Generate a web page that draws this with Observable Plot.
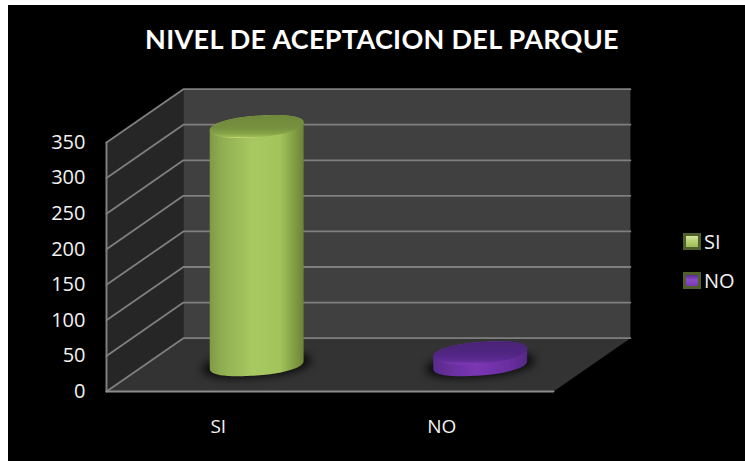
<!DOCTYPE html>
<html lang="es">
<head>
<meta charset="utf-8">
<script src="https://cdn.jsdelivr.net/npm/d3@7"></script>
<script src="https://cdn.jsdelivr.net/npm/@observablehq/plot@0.6"></script>
<style>
  html, body { margin: 0; padding: 0; background: #fff; overflow: hidden; }
  #panel { position: absolute; left: 8px; top: 5px; width: 737px; height: 456px; background: #000; color: #fff; font-family: Lato, "Open Sans", sans-serif; }
  #panel h1 { margin: 0; position: absolute; left: 0; width: 748px; top: 16px; text-align: center; font-size: 27px; line-height: 36px; font-weight: 700; color: #fff; letter-spacing: 0.3px; white-space: nowrap; }
  #plot { position: absolute; left: 0; top: 54px; }
  #plot svg { display: block; }
  .shadow { filter: blur(4px); }
  #legend { position: absolute; left: 675px; top: 217px; font: 20px "Open Sans", sans-serif; color: #f2f2f2; }
  #legend div { display: flex; align-items: center; height: 39px; }
  #legend i { display: block; box-sizing: border-box; width: 18px; height: 17px; border: 3px solid #4f5f2a; margin-right: 3px; }
</style>
</head>
<body>
<div id="panel">
  <h1 id="title"></h1>
  <div id="plot"></div>
  <div id="legend"></div>
</div>
<script>
const chartTitle = "NIVEL DE ACEPTACION DEL PARQUE";
const categories = ["SI", "NO"];
const values = [335, 17];
const tickValues = [0, 50, 100, 150, 200, 250, 300, 350];
const bodyGradients = ["gBodySi", "gBodyNo"];
const topGradients = ["gTopSi", "gTopNo"];
const swatches = [
  "linear-gradient(180deg,#d3e59a 0%,#b7d174 45%,#9dbc58 100%)",
  "linear-gradient(180deg,#5c2c94 0%,#8a4cc4 45%,#7a3ab0 100%)"
];

// Oblique projection of the 3D box: depth 0 is the front edge, depth 1 the back wall.
const depthX = 0.344;
const depthV = 75;
const project = (pos, v, d) => ({x: pos + d * depthX, y: v + d * depthV});
const maxV = d3.max(tickValues);

// A tilted, rounded ellipse on a cylinder; the angles select the arc returned.
const cylRx = 0.21, cylRy = 15, cylShear = 5.5, roundness = 0.9;
const soft = c => Math.sign(c) * Math.abs(c) ** roundness;
function arc(cx, cv, from, to, k = 1) {
  return d3.range(0, 61).map(i => {
    const t = from + (to - from) * i / 60;
    return {
      x: cx + k * cylRx * soft(Math.cos(t)),
      y: cv + k * (cylShear * Math.cos(t) + cylRy * soft(Math.sin(t)))
    };
  });
}

// Gridlines run along the side wall and then across the back wall.
const gridPaths = tickValues.map(v => [project(0, v, 0), project(0, v, 1), project(2, v, 1)]);

const sideWall = [project(0, 0, 0), project(0, 0, 1), project(0, maxV, 1), project(0, maxV, 0)];
const backWall = [project(0, 0, 1), project(2, 0, 1), project(2, maxV, 1), project(0, maxV, 1)];
const floor = [project(0, 0, 0), project(2, 0, 0), project(2, 0, 1), project(0, 0, 1)];

const gradient = (id, x2, y2, stops) => {
  const g = d3.create("svg:linearGradient").attr("id", id)
    .attr("x1", 0).attr("y1", 0).attr("x2", x2).attr("y2", y2);
  stops.forEach(([o, c]) => g.append("stop").attr("offset", o).attr("stop-color", c));
  return g.node();
};

const defs = () => {
  const d = d3.create("svg:defs");
  d.append(() => gradient("gBodySi", 1, 0, [[0, "#7f9a45"], [0.12, "#8fad50"], [0.45, "#a8c862"], [0.75, "#a3c35d"], [0.92, "#7e993f"], [1, "#6c8336"]]));
  d.append(() => gradient("gBodyNo", 1, 0, [[0, "#5a2b8c"], [0.45, "#7b36b4"], [0.8, "#6a2ea0"], [1, "#552887"]]));
  d.append(() => gradient("gTopSi", 0, 1, [[0, "#6f883b"], [0.55, "#76903f"], [0.8, "#86a247"], [0.95, "#9dbb55"], [1, "#cfe67a"]]));
  d.append(() => gradient("gTopNo", 0, 1, [[0, "#4a2376"], [0.6, "#512684"], [0.85, "#5f2b95"], [0.96, "#7434a8"], [1, "#8f4ac8"]]));
  return d.node();
};

const shape = (points, fill, extra = {}) =>
  Plot.line(points, {x: "x", y: "y", fill, stroke: "none", ...extra});

const cylinderMarks = categories.flatMap((_, i) => {
  const base = project(i + 0.5, 0, 0.5);
  const topV = base.y + values[i];
  const body = [...arc(base.x, base.y, Math.PI, 2 * Math.PI), ...arc(base.x, topV, 0, Math.PI)];
  const top = arc(base.x, topV, 0, 2 * Math.PI);
  const foot = arc(base.x, base.y, 0, 2 * Math.PI, 1.16);
  return [
    shape(foot, "#0c0c0c", {className: "shadow"}),
    shape(body, `url(#${bodyGradients[i]})`),
    shape(top, `url(#${topGradients[i]})`)
  ];
});

const chart = Plot.plot({
  width: 737,
  height: 402,
  marginLeft: 98,
  marginRight: 192,
  marginTop: 83,
  marginBottom: 70,
  style: {background: "transparent", color: "#f2f2f2", fontFamily: "'Open Sans', sans-serif"},
  x: {domain: [0, 2], range: [98, 545], axis: null},
  y: {domain: [0, maxV], range: [332, 83], axis: null},
  marks: [
    defs,
    shape(sideWall, "#262626"),
    shape(backWall, "#404040"),
    shape(floor, "#333333"),
    ...gridPaths.map(p => Plot.line(p, {x: "x", y: "y", stroke: "#7f7f7f", strokeWidth: 1.8})),
    Plot.line([project(0, 0, 0), project(0, maxV, 0)], {x: "x", y: "y", stroke: "#7f7f7f", strokeWidth: 2}),
    Plot.line([project(0, 0, 0), project(2, 0, 0)], {x: "x", y: "y", stroke: "#8c8c8c", strokeWidth: 2}),
    ...cylinderMarks,
    Plot.axisY({ticks: tickValues, tickSize: 0, tickPadding: 21, fontSize: 20, label: null, tickFormat: d => `${d}`}),
    Plot.axisX({
      ticks: categories.map((_, i) => i + 0.5),
      tickSize: 0,
      tickPadding: 28,
      fontSize: 19,
      label: null,
      tickFormat: d => categories[d - 0.5]
    })
  ]
});

document.getElementById("title").textContent = chartTitle;
document.getElementById("plot").append(chart);
document.getElementById("legend").append(...categories.map((c, i) => {
  const row = document.createElement("div");
  const box = document.createElement("i");
  box.style.background = swatches[i];
  row.append(box, c);
  return row;
}));
</script>
</body>
</html>
